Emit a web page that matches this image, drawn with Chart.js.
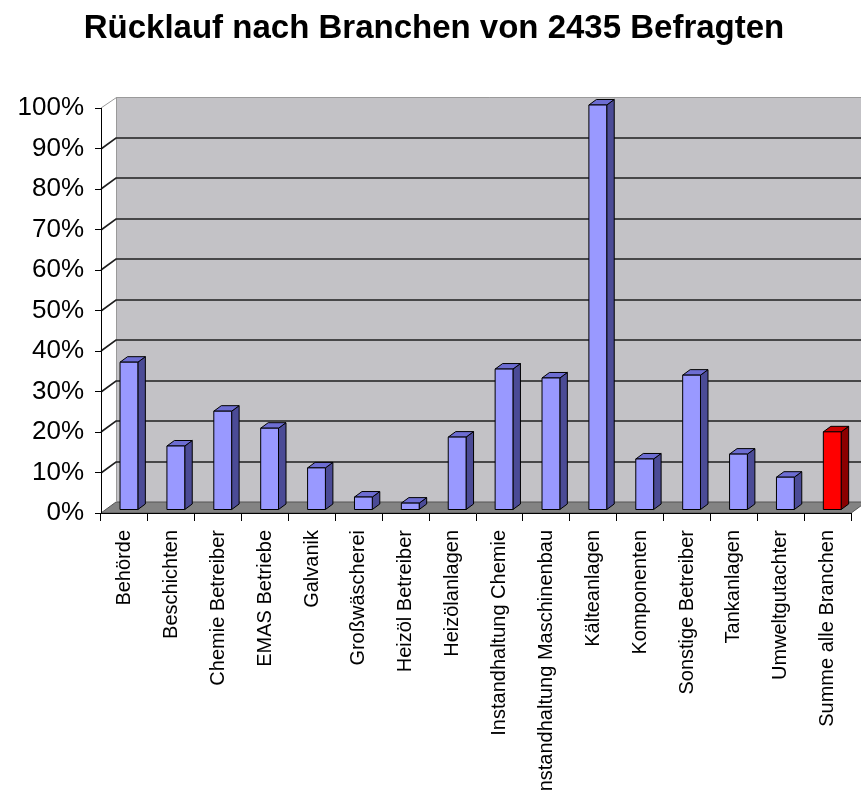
<!DOCTYPE html>
<html>
<head>
<meta charset="utf-8">
<script src="https://cdn.jsdelivr.net/npm/chart.js@4.4.1/dist/chart.umd.min.js"></script>
<style>
  html, body { margin: 0; padding: 0; background: #fff; }
  #wrap { width: 861px; height: 792px; }
</style>
</head>
<body>
<div id="wrap"><canvas id="chart" width="861" height="792"></canvas></div>
<script>
// Rücklauf nach Branchen (Excel 3D-Säulen nachgebaut)
const categories = [
  'Behörde', 'Beschichten', 'Chemie Betreiber', 'EMAS Betriebe', 'Galvanik',
  'Großwäscherei', 'Heizöl Betreiber', 'Heizölanlagen', 'Instandhaltung Chemie',
  'Instandhaltung Maschinenbau', 'Kälteanlagen', 'Komponenten', 'Sonstige Betreiber',
  'Tankanlagen', 'Umweltgutachter', 'Summe alle Branchen'
];
const ruecklauf = [36.5, 15.8, 24.4, 20.2, 10.4, 3.2, 1.7, 18.0, 34.8, 32.6, 100, 12.6, 33.3, 13.8, 8.1, 19.3];
const yTicks = [0, 10, 20, 30, 40, 50, 60, 70, 80, 90, 100];
const summeIndex = categories.length - 1;

const FONT = "'Liberation Sans', Arial, Helvetica, sans-serif";

// depth of the 3D box (back wall offset) and bar depth
const WALL = { dx: 15, dy: -11 };
const BAR_FRONT = { dx: 4.5, dy: -3 };
const BAR_DEPTH = { dx: 7.5, dy: -5.5 };

const palette = {
  blue: { front: '#9999ff', side: '#4b4b96', top: '#6d6dd2' },
  red:  { front: '#ff0000', side: '#8a0000', top: '#cc0000' }
};

function poly(ctx, pts, fill, stroke) {
  ctx.beginPath();
  ctx.moveTo(pts[0][0], pts[0][1]);
  for (let i = 1; i < pts.length; i++) ctx.lineTo(pts[i][0], pts[i][1]);
  ctx.closePath();
  if (fill) { ctx.fillStyle = fill; ctx.fill(); }
  if (stroke) { ctx.strokeStyle = stroke; ctx.stroke(); }
}

const box3d = {
  id: 'box3d',
  beforeDraw(chart) {
    const { ctx, chartArea: a, scales: { y } } = chart;
    const W = chart.width;
    ctx.save();
    ctx.lineWidth = 1;
    // back wall
    poly(ctx, [
      [a.left + WALL.dx, a.top + WALL.dy], [W + 20, a.top + WALL.dy],
      [W + 20, a.bottom + WALL.dy], [a.left + WALL.dx, a.bottom + WALL.dy]
    ], '#c3c2c6', null);
    // floor
    poly(ctx, [
      [a.left, a.bottom], [a.right, a.bottom],
      [a.right + WALL.dx, a.bottom + WALL.dy], [a.left + WALL.dx, a.bottom + WALL.dy]
    ], '#838383', '#555');
    // wall outline (light)
    ctx.strokeStyle = '#9a9a9a';
    ctx.beginPath();
    ctx.moveTo(a.left, a.top);
    ctx.lineTo(a.left + WALL.dx + 0.5, a.top + WALL.dy + 0.5);
    ctx.lineTo(W + 20, a.top + WALL.dy + 0.5);
    ctx.moveTo(a.left + WALL.dx + 0.5, a.top + WALL.dy);
    ctx.lineTo(a.left + WALL.dx + 0.5, a.bottom + WALL.dy);
    ctx.stroke();
    // gridlines on back wall + side wall diagonals
    ctx.strokeStyle = '#1f1f1f';
    ctx.lineWidth = 1.6;
    yTicks.forEach(v => {
      if (v === 0 || v === 100) return;
      const py = Math.round(y.getPixelForValue(v));
      ctx.beginPath();
      ctx.moveTo(a.left, py);
      ctx.lineTo(a.left + WALL.dx, py + WALL.dy);
      ctx.lineTo(W + 20, py + WALL.dy);
      ctx.stroke();
    });
    ctx.restore();
  },
  beforeDatasetDraw() {
    return false; // bars are drawn as 3D boxes below
  },
  afterDatasetsDraw(chart) {
    const { ctx } = chart;
    const meta = chart.getDatasetMeta(0);
    ctx.save();
    ctx.lineWidth = 1;
    ctx.lineJoin = 'round';
    meta.data.forEach((bar, i) => {
      const c = i === summeIndex ? palette.red : palette.blue;
      const x0 = bar.x - bar.width / 2 + BAR_FRONT.dx;
      const x1 = bar.x + bar.width / 2 + BAR_FRONT.dx;
      const yT = bar.y + BAR_FRONT.dy;
      const yB = bar.base + BAR_FRONT.dy;
      const dx = BAR_DEPTH.dx, dy = BAR_DEPTH.dy;
      poly(ctx, [[x1, yT], [x1 + dx, yT + dy], [x1 + dx, yB + dy], [x1, yB]], c.side, '#000');
      poly(ctx, [[x0, yT], [x0 + dx, yT + dy], [x1 + dx, yT + dy], [x1, yT]], c.top, '#000');
      poly(ctx, [[x0, yT], [x1, yT], [x1, yB], [x0, yB]], c.front, '#000');
    });
    ctx.restore();
  }
};

new Chart(document.getElementById('chart'), {
  type: 'bar',
  data: {
    labels: categories,
    datasets: [{
      label: 'Rücklauf',
      data: ruecklauf,
      backgroundColor: ruecklauf.map((v, i) => i === summeIndex ? palette.red.front : palette.blue.front),
      borderColor: '#000',
      borderWidth: 1,
      barPercentage: 0.38,
      categoryPercentage: 1
    }]
  },
  options: {
    responsive: false,
    animation: false,
    devicePixelRatio: 1,
    layout: { padding: { top: 8, right: 8, left: 15, bottom: 0 } },
    plugins: {
      legend: { display: false },
      tooltip: { enabled: false },
      title: {
        display: true,
        text: 'Rücklauf nach Branchen von 2435 Befragten',
        color: '#000',
        font: { family: FONT, size: 33, weight: 'bold' },
        padding: { top: 1, bottom: 59.4 }
      }
    },
    scales: {
      x: {
        grid: { offset: true, drawOnChartArea: false, drawTicks: true, tickLength: 8, color: '#000' },
        border: { display: true, color: '#000', width: 1 },
        ticks: {
          autoSkip: false, maxRotation: 90, minRotation: 90, padding: 9,
          color: '#000', font: { family: FONT, size: 20 }
        },
        afterFit(scale) { scale.height = 279; }
      },
      y: {
        min: 0, max: 100,
        grid: { drawOnChartArea: false, drawTicks: true, tickLength: 6, color: '#000' },
        border: { display: true, color: '#000', width: 1 },
        ticks: {
          stepSize: 10, padding: 11, color: '#000',
          font: { family: FONT, size: 26 },
          callback: v => v + '%'
        },
        afterFit(scale) { scale.width = 86; }
      }
    }
  },
  plugins: [box3d]
});
</script>
</body>
</html>
